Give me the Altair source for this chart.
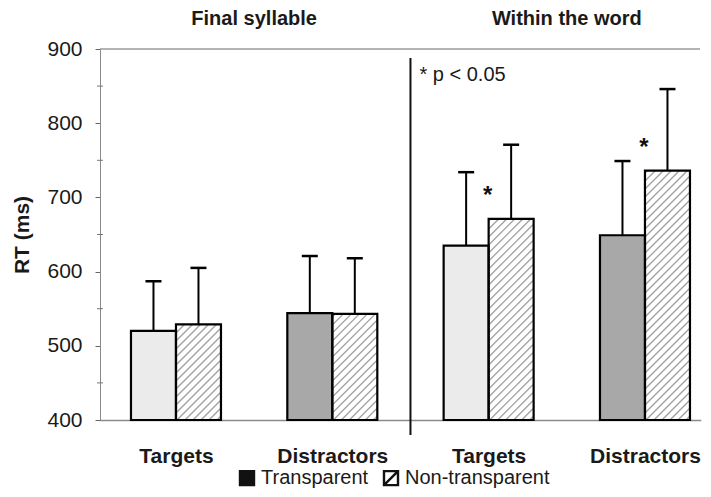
import json
import altair as alt
import numpy as np
import pandas as pd

# ---------------- data ----------------
groups = ["Targets", "Distractors", "Targets", "Distractors"]
conditions = ["Final syllable", "Final syllable", "Within the word", "Within the word"]
series = ["Transparent", "Non-transparent"]
transparent_rt = [520, 544, 635, 649]
transparent_sd = [67, 77, 99, 100]
nontransparent_rt = [529, 543, 671, 736]
nontransparent_sd = [76, 75, 100, 110]
significant = [False, False, True, True]
y_ticks = [400, 500, 600, 700, 800, 900]
minor_ticks = [450, 550, 650, 750, 850]
note = "* p < 0.05"

# ---------------- layout / style ----------------
FONT = "Liberation Sans, Arial, sans-serif"
W, H = 600, 371
X_MIN, X_MAX = -0.486, 3.352
Y_MIN, Y_MAX = 400, 900
PX = W / (X_MAX - X_MIN)          # pixels per x unit
PY = H / (Y_MAX - Y_MIN)          # pixels per ms
BW = 45 / PX                      # bar width in x units
CAP = 8 / PX                      # half width of error cap
HATCH_STEP = 8                    # px between hatch lines
light_fill = {"Targets": "#ebebeb", "Distractors": "#a8a8a8"}

x_scale = alt.Scale(domain=[X_MIN, X_MAX], nice=False, zero=False)
y_scale = alt.Scale(domain=[Y_MIN, Y_MAX], nice=False, zero=False)

# bars table
rows = []
for i, g in enumerate(groups):
    rows.append(dict(idx=i, group=g, series="Transparent", rt=transparent_rt[i],
                     sd=transparent_sd[i], x0=i - BW, x1=i, fill=light_fill[g]))
    rows.append(dict(idx=i, group=g, series="Non-transparent", rt=nontransparent_rt[i],
                     sd=nontransparent_sd[i], x0=i, x1=i + BW, fill="#ffffff"))
bars = pd.DataFrame(rows)
bars["xm"] = (bars["x0"] + bars["x1"]) / 2
bars["top"] = bars["rt"] + bars["sd"]
bars["base"] = Y_MIN
bars["cl"] = bars["xm"] - CAP
bars["cr"] = bars["xm"] + CAP

# hatch segments for the non-transparent bars (clipped 45 degree lines)
hrows = []
for _, b in bars[bars["series"] == "Non-transparent"].iterrows():
    wp = (b["x1"] - b["x0"]) * PX
    hp = (b["rt"] - Y_MIN) * PY
    for d in np.arange(-wp + HATCH_STEP / 2, hp, HATCH_STEP):
        xs = max(0.0, -d)
        xe = min(wp, hp - d)
        if xe - xs < 1:
            continue
        hrows.append(dict(hx0=b["x0"] + xs / PX, hy0=Y_MIN + (xs + d) / PY,
                          hx1=b["x0"] + xe / PX, hy1=Y_MIN + (xe + d) / PY))
hatch = pd.DataFrame(hrows)

# condition titles centred over their groups
cond = pd.DataFrame({"cond": conditions, "idx": range(len(groups))})
cond_titles = cond.groupby("cond", sort=False)["idx"].mean().reset_index()
divider_x = float(cond_titles["idx"].mean())

stars = pd.DataFrame({"idx": range(len(groups)), "rt": nontransparent_rt, "sig": significant})
stars = stars[stars["sig"]].assign(label="*")

base = alt.Chart(bars)

fills = base.mark_rect(stroke=None).encode(
    x=alt.X("x0:Q", scale=x_scale, axis=alt.Axis(
        values=list(range(len(groups))),
        labelExpr=f"{json.dumps(groups)}[datum.value]",
        ticks=False, grid=False, title=None, domainColor="#8a8a8a", domainWidth=1.5,
        labelFont=FONT, labelFontSize=21, labelFontWeight="bold", labelColor="#1a1a1a",
        labelPadding=36, labelBaseline="middle")),
    x2="x1:Q",
    y=alt.Y("rt:Q", scale=y_scale, axis=alt.Axis(
        values=y_ticks, grid=False, title="RT (ms)", tickSize=5, tickColor="#666",
        domainColor="#8a8a8a", labelFont=FONT, labelFontSize=21, labelColor="#1a1a1a",
        labelPadding=13, titleFont=FONT, titleFontSize=21, titleFontWeight="bold",
        titleColor="#1a1a1a", titlePadding=14)),
    y2="base:Q",
    fill=alt.Fill("fill:N", scale=None),
)

hatch_layer = alt.Chart(hatch).mark_rule(color="#a0a0a0", strokeWidth=1.3).encode(
    x=alt.X("hx0:Q", scale=x_scale), y=alt.Y("hy0:Q", scale=y_scale),
    x2="hx1:Q", y2="hy1:Q")

outlines = base.mark_rect(fill=None, stroke="#000", strokeWidth=2.2).encode(
    x=alt.X("x0:Q", scale=x_scale), x2="x1:Q",
    y=alt.Y("rt:Q", scale=y_scale), y2="base:Q")

err_v = base.mark_rule(color="#000", strokeWidth=2).encode(
    x=alt.X("xm:Q", scale=x_scale), y=alt.Y("rt:Q", scale=y_scale), y2="top:Q")
err_cap = base.mark_rule(color="#000", strokeWidth=2.5).encode(
    x=alt.X("cl:Q", scale=x_scale), x2="cr:Q", y=alt.Y("top:Q", scale=y_scale))

star_layer = alt.Chart(stars).mark_text(
    font=FONT, fontSize=24, fontWeight="bold", color="#111", dy=-23, dx=-1,
    baseline="middle").encode(
    x=alt.X("idx:Q", scale=x_scale), y=alt.Y("rt:Q", scale=y_scale), text="label:N")

titles = alt.Chart(cond_titles).mark_text(
    font=FONT, fontSize=20, fontWeight="bold", color="#1a1a1a", baseline="middle").encode(
    x=alt.X("idx:Q", scale=x_scale), y=alt.value(-30), text="cond:N")

divider = alt.Chart(pd.DataFrame({"d": [divider_x]})).mark_rule(
    color="#111", strokeWidth=2).encode(
    x=alt.X("d:Q", scale=x_scale), y=alt.value(9), y2=alt.value(H + 15))

note_layer = alt.Chart(pd.DataFrame({"d": [divider_x], "t": [note]})).mark_text(
    font=FONT, fontSize=20, color="#1a1a1a", align="left", baseline="middle", dx=9).encode(
    x=alt.X("d:Q", scale=x_scale), y=alt.value(26), text="t:N")

top_line = alt.Chart(pd.DataFrame({"v": [Y_MAX]})).mark_rule(
    color="#9a9a9a", strokeWidth=1.5).encode(
    y=alt.Y("v:Q", scale=y_scale), x=alt.value(0), x2=alt.value(W))

minor = alt.Chart(pd.DataFrame({"v": minor_ticks})).mark_rule(
    color="#777", strokeWidth=1).encode(
    y=alt.Y("v:Q", scale=y_scale), x=alt.value(-3), x2=alt.value(3))

hatch_path = "M-1,-1H1V1H-1Z M-1,1L1,-1"
leg = alt.Legend(orient="none", legendX=137, legendY=419, direction="horizontal",
                 title=None, labelFont=FONT, labelFontSize=20, labelColor="#1a1a1a",
                 symbolSize=196, symbolStrokeWidth=2.4,
                 symbolOpacity=1, labelOffset=4, columnPadding=10)
legend_layer = alt.Chart(pd.DataFrame({"series": series})).mark_point(
    filled=True, clip=True, strokeWidth=2.4, size=196).encode(
    x=alt.value(-60), y=alt.value(-60),
    fill=alt.Fill("series:N", scale=alt.Scale(domain=series, range=["#111111", "#ffffff"]),
                  legend=leg),
    stroke=alt.Stroke("series:N", scale=alt.Scale(domain=series, range=["#111111", "#111111"]),
                      legend=leg),
    shape=alt.Shape("series:N", scale=alt.Scale(domain=series, range=["square", hatch_path]),
                    legend=leg),
)

chart = alt.layer(
    fills, hatch_layer, outlines, err_v, err_cap, star_layer, titles, divider,
    note_layer, top_line, minor, legend_layer
).properties(
    width=W, height=H, autosize=alt.AutoSizeParams(type="none"),
    padding={"left": 92, "top": 41, "right": 3, "bottom": 69},
).configure_view(stroke=None).configure_axis(domainCap="square")

chart.save("out.html", embed_options={"renderer": "svg", "actions": False})
